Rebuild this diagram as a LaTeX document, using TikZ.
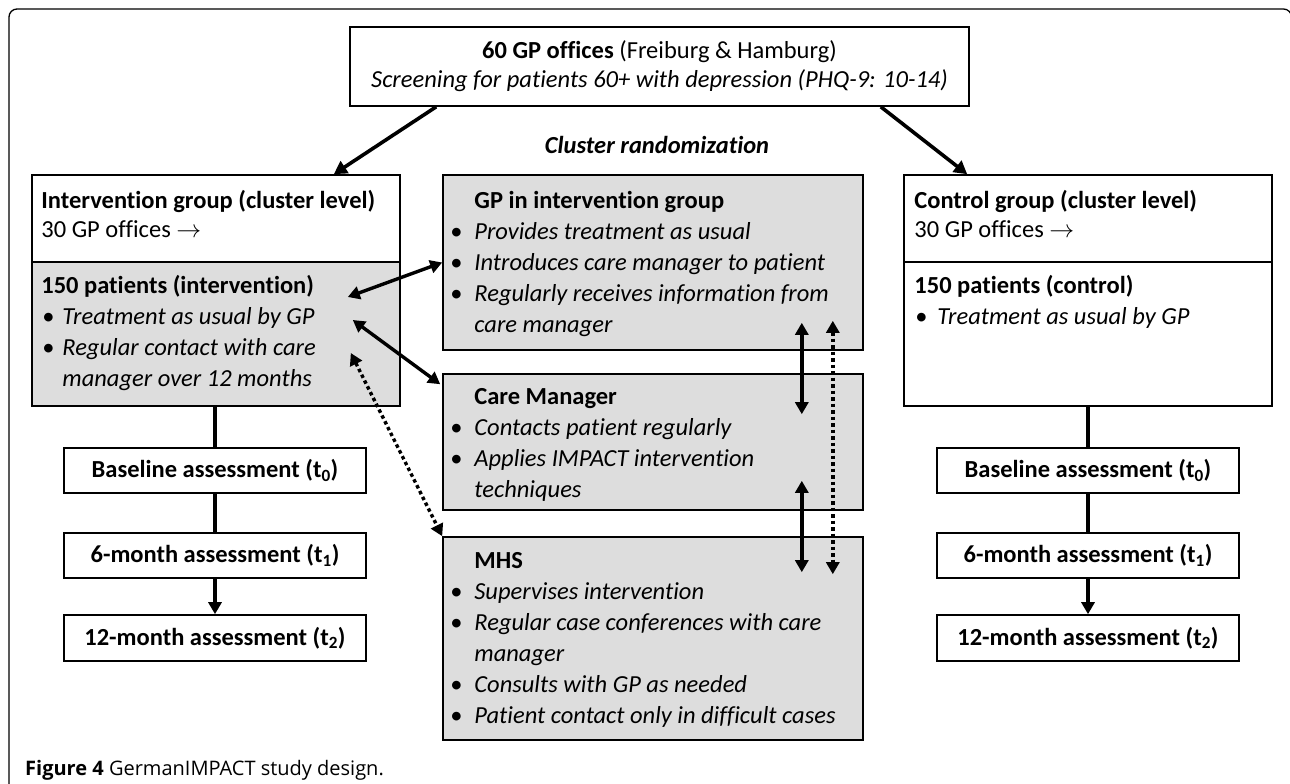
\documentclass[tikz,border=0pt]{standalone}
\usepackage{fontspec}
\setmainfont{Carlito}[Ligatures=NoCommon]
\newfontfamily\capfont{Open Sans}
\usetikzlibrary{arrows.meta,positioning,calc}
\definecolor{boxgray}{RGB}{221,221,221}
% bullet lines with a hanging indent
\newcommand{\bul}[2][25pt]{\makebox[#1][l]{\hspace{1pt}\textbullet}\textit{#2}}
\newcommand{\cont}[2][25pt]{\hspace*{#1}\textit{#2}}
\newcommand{\topstr}{\rule{0pt}{18pt}}

\begin{document}
\begin{tikzpicture}[x=1pt,y=-1pt,
    font=\fontsize{24.5}{31}\selectfont,
    box/.style={draw, line width=1.6pt, inner sep=0pt},
    grbox/.style={box, fill=boxgray},
    txt/.style={anchor=north west, inner sep=0pt, align=left},
    conn/.style={line width=4pt},
    arr/.style={line width=3.6pt, -{Triangle[length=13pt,width=14pt]}},
    darr/.style={line width=3.4pt, {Triangle[length=12pt,width=13pt]}-{Triangle[length=12pt,width=13pt]}},
    dotarr/.style={darr, dash pattern=on 3.5pt off 3pt}]
  \useasboundingbox (0,0) rectangle (1290,784);
  \clip (0,0) rectangle (1290,784);
  % outer frame
  \draw[line width=1.3pt, rounded corners=8pt] (9,800) -- (9,9) -- (1291.5,9) -- (1291.5,800);

  % top
  \node[box, minimum width=619pt, minimum height=79pt, align=center,
        font=\fontsize{24.5}{29}\selectfont] (top) at (659.5,66.5)
    {\textbf{60 GP offices} (Freiburg \& Hamburg)\\
     \textit{Screening for patients 60+ with depression (PHQ-9: 10-14)}};
  \node[font=\fontsize{24.5}{29}\selectfont\bfseries\itshape] (rand) at (657,145) {Cluster randomization};

  % intervention arm
  \node[box, minimum width=368pt, minimum height=87pt] (ivtop) at (216,218.5) {};
  \node[grbox, minimum width=368pt, minimum height=144pt] (ivpat) at (216,334) {};
  \node[txt] (ivtopt) at ($(ivtop.north west)+(10,16)$)
    {\topstr\textbf{Intervention group (cluster level)}\\[-2pt]30 GP offices $\rightarrow$};
  \node[txt] (ivpatt) at ($(ivpat.north west)+(10,14)$)
    {\topstr\textbf{150 patients (intervention)}\\
     \bul[21pt]{Treatment as usual by GP}\\
     \bul[21pt]{Regular contact with care}\\
     \cont[21pt]{manager over 12 months}};

  % control arm
  \node[box, minimum width=368pt, minimum height=87pt] (cotop) at (1088,218.5) {};
  \node[box, minimum width=368pt, minimum height=144pt] (copat) at (1088,334) {};
  \node[txt] (cotopt) at ($(cotop.north west)+(11,16)$)
    {\topstr\textbf{Control group (cluster level)}\\[-2pt]30 GP offices $\rightarrow$};
  \node[txt] (copatt) at ($(copat.north west)+(11,14)$)
    {\topstr\textbf{150 patients (control)}\\
     \bul[23pt]{Treatment as usual by GP}};

  % middle column
  \node[grbox, minimum width=420pt, minimum height=175pt] (gp) at (653,262.5) {};
  \node[grbox, minimum width=420pt, minimum height=136pt] (cm) at (653,442) {};
  \node[grbox, minimum width=420pt, minimum height=203pt] (mhs) at (653,638.5) {};
  \node[txt] (gpt) at ($(gp.north west)+(7,16)$)
    {\topstr\hspace*{25pt}\textbf{GP in intervention group}\\
     \bul{Provides treatment as usual}\\
     \bul{Introduces care manager to patient}\\
     \bul{Regularly receives information from}\\
     \cont{care manager}};
  \node[txt] (cmt) at ($(cm.north west)+(7,13)$)
    {\topstr\hspace*{25pt}\textbf{Care Manager}\\
     \bul{Contacts patient regularly}\\
     \bul{Applies IMPACT intervention}\\
     \cont{techniques}};
  \node[txt] (mhst) at ($(mhs.north west)+(7,14)$)
    {\topstr\hspace*{25pt}\textbf{MHS}\\
     \bul{Supervises intervention}\\
     \bul{Regular case conferences with care}\\
     \cont{manager}\\
     \bul{Consults with GP as needed}\\
     \bul{Patient contact only in difficult cases}};

  % assessments
  \foreach \side/\cx in {l/215, r/1088} {
    \node[box, minimum width=302pt, minimum height=45pt, font=\fontsize{24.5}{29}\selectfont\bfseries]
      (base\side) at (\cx,470.5) {Baseline assessment (t\textsubscript{0})};
    \node[box, minimum width=302pt, minimum height=45pt, font=\fontsize{24.5}{29}\selectfont\bfseries]
      (six\side) at (\cx,555.5) {6-month assessment (t\textsubscript{1})};
    \node[box, minimum width=302pt, minimum height=46pt, font=\fontsize{24.5}{29}\selectfont\bfseries]
      (twl\side) at (\cx,638) {12-month assessment (t\textsubscript{2})};
    \draw[conn] (base\side) -- (six\side);
    \draw[conn, -{Triangle[length=12pt,width=13pt]}] (six\side) -- (twl\side);
  }
  \draw[conn] (ivpat.south -| basel.north) -- (basel);
  \draw[conn] (copat) -- (baser);

  % randomization arrows
  \draw[arr] ($(top.south west)+(87,0)$) -- ($(ivtop.north east)+(-67,0)$);
  \draw[arr] ($(top.south east)+(-89,0)$) -- ($(cotop.north west)+(64,0)$);

  % communication
  \draw[darr] ($(ivpat.east)+(-53,-37)$) -- (gp.west);
  \draw[darr] ($(ivpat.east)+(-48,-14)$) -- ($(cm.north west)+(-2,11)$);
  \draw[dotarr] ($(ivpat.east)+(-50,19)$) -- (mhs.north west);
  \draw[darr] ($(gp.south east)+(-62,-28)$) -- ($(cm.north east)+(-62,41)$);
  \draw[darr] ($(cm.south east)+(-62,-30)$) -- ($(mhs.north east)+(-62,36)$);
  \draw[dotarr] ($(gp.south east)+(-31,-30)$) -- ($(mhs.north east)+(-31,38)$);

  % caption
  \node[anchor=base west, inner sep=0pt, font=\capfont\fontsize{20}{24}\selectfont] (cap) at (25,775)
    {\textbf{Figure 4} GermanIMPACT study design.};
\end{tikzpicture}
\end{document}
